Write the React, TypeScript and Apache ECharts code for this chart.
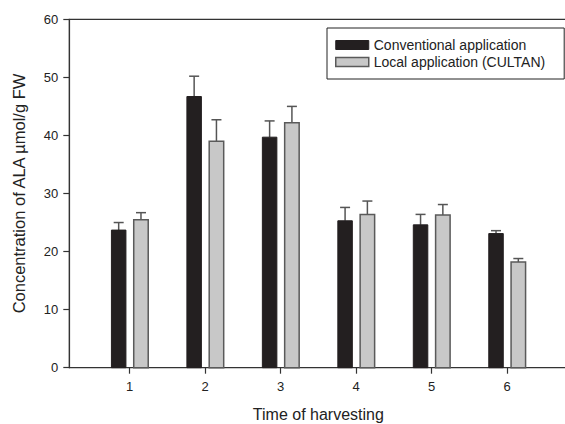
import React, { useEffect, useRef } from "react";
import * as echarts from "echarts";

const harvestTimes = [1, 2, 3, 4, 5, 6];
const xTickLabels = ["1", "2", "3", "4", "5", "6"];
const conventional = [23.7, 46.7, 39.7, 25.3, 24.6, 23.1];
const conventionalErr = [1.3, 3.5, 2.8, 2.3, 1.8, 0.5];
const localApp = [25.5, 39.0, 42.2, 26.4, 26.3, 18.2];
const localErr = [1.2, 3.7, 2.8, 2.3, 1.8, 0.6];

const FONT = "'Liberation Sans', Arial, Helvetica, sans-serif";
const BLACK = "#231f20";
const GREY = "#c8c8c8";
const GREY_BORDER = "#5a5a5a";
const ERR = "#555555";

function makeRender(offsetPx: number, fill: string, border: string, bw: number) {
  return (params: any, api: any) => {
    const x = api.value(0);
    const y = api.value(1);
    const e = api.value(2);
    const top = api.coord([x, y]);
    const base = api.coord([x, 0]);
    const errTop = api.coord([x, y + e]);
    const w = 14.5;
    const cx = top[0] + offsetPx;
    const cap = 5;
    return {
      type: "group",
      children: [
        {
          type: "line",
          shape: { x1: cx, y1: top[1], x2: cx, y2: errTop[1] },
          style: { stroke: ERR, lineWidth: 1.5 },
        },
        {
          type: "line",
          shape: { x1: cx - cap, y1: errTop[1], x2: cx + cap, y2: errTop[1] },
          style: { stroke: ERR, lineWidth: 1.5 },
        },
        {
          type: "rect",
          shape: { x: cx - w / 2, y: top[1], width: w, height: base[1] - top[1] },
          style: { fill, stroke: border, lineWidth: bw },
        },
      ],
    };
  };
}

export default function App() {
  const ref = useRef<HTMLDivElement>(null);
  useEffect(() => {
    if (!ref.current) return;
    const chart = echarts.init(ref.current, undefined, { renderer: "svg" });
    const convData = harvestTimes.map((t, i) => [t, conventional[i], conventionalErr[i]]);
    const localData = harvestTimes.map((t, i) => [t, localApp[i], localErr[i]]);
    chart.setOption({
      animation: false,
      backgroundColor: "#ffffff",
      textStyle: { fontFamily: FONT },
      grid: {
        left: 69.3,
        top: 19.3,
        right: -2.4,
        bottom: 56.3,
        containLabel: false,
        outerBoundsMode: "none",
        show: true,
        borderColor: "#333333",
        borderWidth: 1.2,
      },
      legend: {
        orient: "vertical",
        left: 327,
        top: 28,
        itemWidth: 33,
        itemHeight: 9,
        itemGap: 3,
        padding: [10, 19, 10, 8],
        borderColor: "#222222",
        borderWidth: 1,
        backgroundColor: "#ffffff",
        textStyle: { fontSize: 14, color: "#222222", fontFamily: FONT, lineHeight: 14 },
        data: [
          {
            name: "Conventional application",
            icon: "rect",
            itemStyle: { color: BLACK, borderColor: BLACK, borderWidth: 1 },
          },
          {
            name: "Local application (CULTAN)",
            icon: "rect",
            itemStyle: { color: GREY, borderColor: GREY_BORDER, borderWidth: 1.5 },
          },
        ],
      },
      xAxis: {
        type: "value",
        min: 0.2,
        max: 6.8,
        name: "Time of harvesting",
        nameLocation: "middle",
        nameGap: 39,
        nameTextStyle: { fontSize: 16, color: "#222222", fontFamily: FONT },
        splitLine: { show: false },
        axisLine: { show: true, lineStyle: { color: "#333333", width: 1.2 } },
        axisTick: {
          show: true,
          length: 6,
          customValues: harvestTimes,
          lineStyle: { color: "#333333", width: 1.2 },
        },
        axisLabel: {
          customValues: harvestTimes,
          formatter: (v: number) => xTickLabels[harvestTimes.indexOf(v)] ?? "",
          fontSize: 13,
          color: "#222222",
          margin: 12,
          fontFamily: FONT,
        },
      },
      yAxis: {
        type: "value",
        min: 0,
        max: 60,
        interval: 10,
        name: "Concentration of ALA µmol/g FW",
        nameLocation: "middle",
        nameGap: 42,
        nameTextStyle: { fontSize: 16.5, color: "#222222", fontFamily: FONT },
        splitLine: { show: false },
        axisLine: { show: true, lineStyle: { color: "#333333", width: 1.2 } },
        axisTick: { show: true, length: 6, lineStyle: { color: "#333333", width: 1.2 } },
        axisLabel: { fontSize: 13, color: "#222222", margin: 11, fontFamily: FONT },
      },
      series: [
        {
          name: "Conventional application",
          type: "custom",
          renderItem: makeRender(-11, BLACK, BLACK, 1),
          itemStyle: { color: BLACK },
          encode: { x: 0, y: 1 },
          data: convData,
          clip: false,
        },
        {
          name: "Local application (CULTAN)",
          type: "custom",
          renderItem: makeRender(11.3, GREY, GREY_BORDER, 1.5),
          itemStyle: { color: GREY },
          encode: { x: 0, y: 1 },
          data: localData,
          clip: false,
        },
      ],
    });
    return () => chart.dispose();
  }, []);
  return (
    <div
      ref={ref}
      style={{ position: "fixed", left: 0, top: 0, width: 565, height: 424 }}
    />
  );
}
